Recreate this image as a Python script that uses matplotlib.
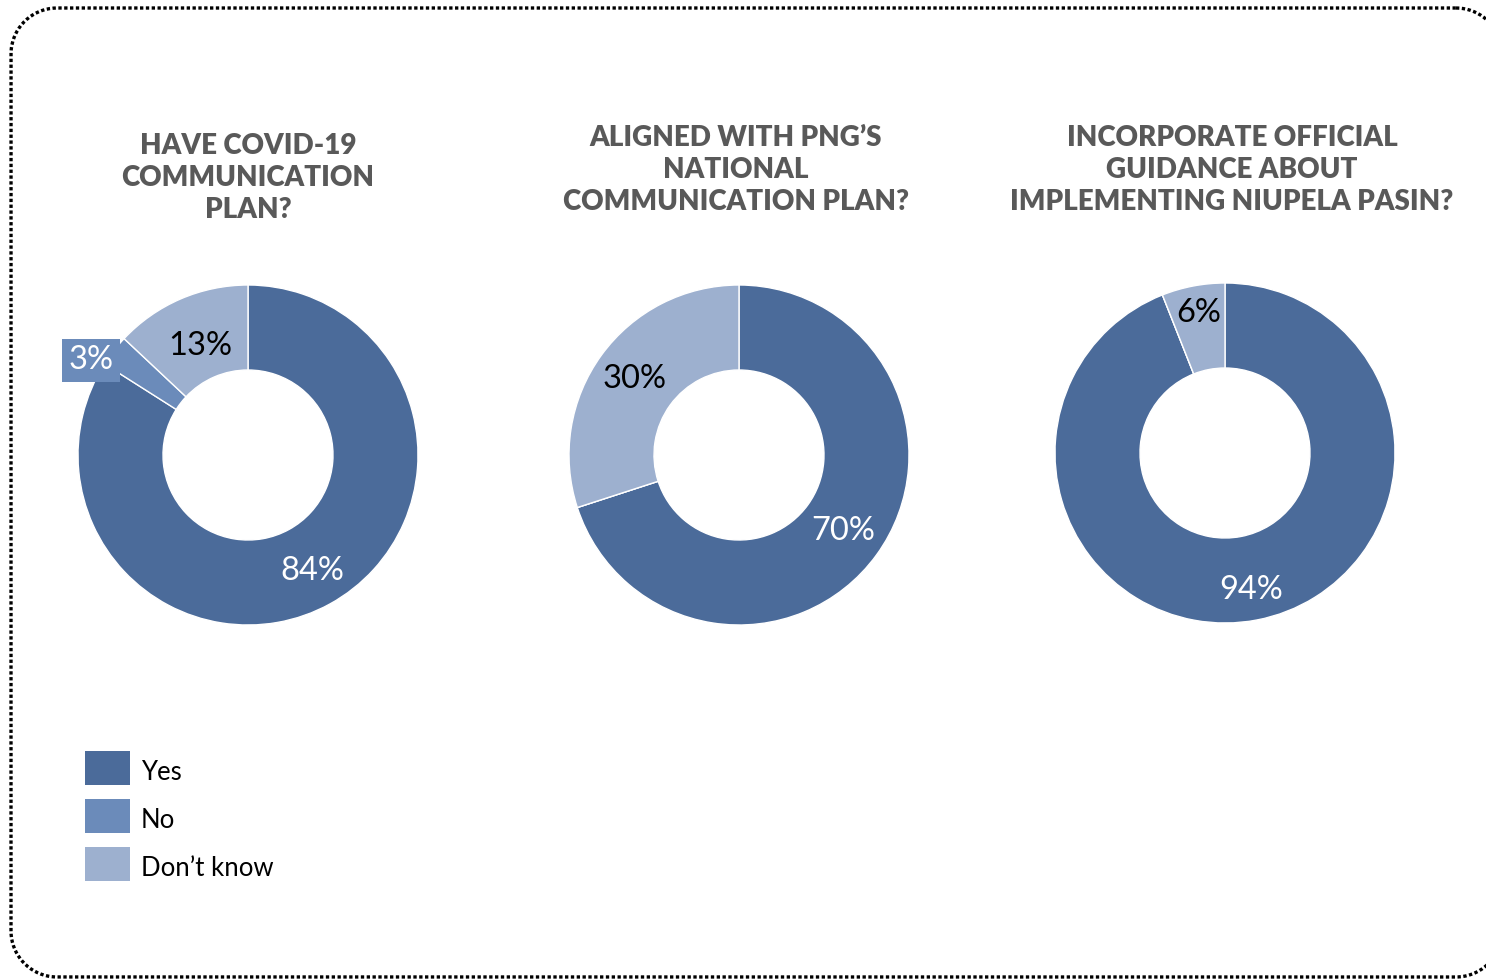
import matplotlib
matplotlib.use("Agg")
import matplotlib.pyplot as plt
import numpy as np

# Survey responses per question (percent)
categories = ["Yes", "No", "Don\u2019t know"]
titles = [
    "HAVE COVID-19\nCOMMUNICATION\nPLAN?",
    "ALIGNED WITH PNG\u2019S\nNATIONAL\nCOMMUNICATION PLAN?",
    "INCORPORATE OFFICIAL\nGUIDANCE ABOUT\nIMPLEMENTING NIUPELA PASIN?",
]
plan_values = [84, 3, 13]
aligned_values = [70, 0, 30]
guidance_values = [94, 0, 6]
all_values = [plan_values, aligned_values, guidance_values]

colors = ["#4b6b9a", "#6b8bba", "#9db0cf"]
label_colors = ["white", "white", "black"]

W, H = 1486, 980
DPI = 100
fig = plt.figure(figsize=(W / DPI, H / DPI), dpi=DPI)
fig.patch.set_facecolor("white")

# background layer in pixel units for the dotted rounded frame and legend
bg = fig.add_axes([0, 0, 1, 1])
bg.set_xlim(0, W)
bg.set_ylim(H, 0)
bg.axis("off")


def rounded_rect(x0, y0, x1, y1, r, n=40):
    pts = []
    corners = [(x1 - r, y0 + r, -90, 0), (x1 - r, y1 - r, 0, 90),
               (x0 + r, y1 - r, 90, 180), (x0 + r, y0 + r, 180, 270)]
    for cx, cy, a0, a1 in corners:
        t = np.deg2rad(np.linspace(a0, a1, n))
        pts.append(np.column_stack([cx + r * np.cos(t), cy + r * np.sin(t)]))
    pts = np.vstack(pts + [pts[0][:1]])
    return pts[:, 0], pts[:, 1]


fx, fy = rounded_rect(11, 8, 1502, 977, 46)
bg.plot(fx, fy, color="black", linewidth=2.4, linestyle=(0, (1.0, 0.75)),
        dash_capstyle="butt", clip_on=False)

centers = [(248, 455), (739, 455), (1225, 453)]
title_pos = [(248, 146), (736, 138), (1232, 138)]
outer_px = 170
box_px = 420
# radial placement of each percentage label (fraction of outer radius)
label_r = [[0.78, 1.08, 0.70], [0.76, 0.0, 0.76], [0.82, 0.0, 0.84]]
label_dtheta = [[0, 6.7, 0], [0, 0, 0], [0, 0, 0]]

for i, vals in enumerate(all_values):
    cx, cy = centers[i]
    ax = fig.add_axes([(cx - box_px / 2) / W, (H - cy - box_px / 2) / H,
                       box_px / W, box_px / H])
    lim = box_px / (2 * outer_px)
    wedges, _ = ax.pie(vals, colors=colors, startangle=90, counterclock=False,
                       radius=1.0,
                       wedgeprops=dict(width=0.5, edgecolor="white", linewidth=1.0))
    ax.set_xlim(-lim, lim)
    ax.set_ylim(-lim, lim)
    ax.set_aspect("equal")
    ax.axis("off")
    for j, (w, v) in enumerate(zip(wedges, vals)):
        if v <= 0:
            continue
        mid = np.deg2rad((w.theta1 + w.theta2) / 2 + label_dtheta[i][j])
        r = label_r[i][j]
        kw = {}
        if j == 1:
            kw["bbox"] = dict(boxstyle="square,pad=0.2", fc=colors[1], ec="none")
        ax.text(r * np.cos(mid), r * np.sin(mid), f"{v}%", ha="center", va="center",
                fontsize=23.5, color=label_colors[j], family="Lato", **kw)
    tx, ty = title_pos[i]
    for k, line in enumerate(titles[i].split("\n")):
        fig.text(tx / W, 1 - (ty + 32 * k) / H, line, ha="center", va="center",
                 fontsize=20, fontweight="heavy", family="Lato", color="#595959")

# legend
for k, cat in enumerate(categories):
    y0 = 751 + 48 * k
    bg.add_patch(plt.Rectangle((85, y0), 45, 34, facecolor=colors[k], edgecolor="none"))
    bg.text(141, y0 + 21, cat, ha="left", va="center",
            fontsize=18.5, family="Lato", color="black")

fig.savefig("out.png", dpi=DPI, facecolor="white")
